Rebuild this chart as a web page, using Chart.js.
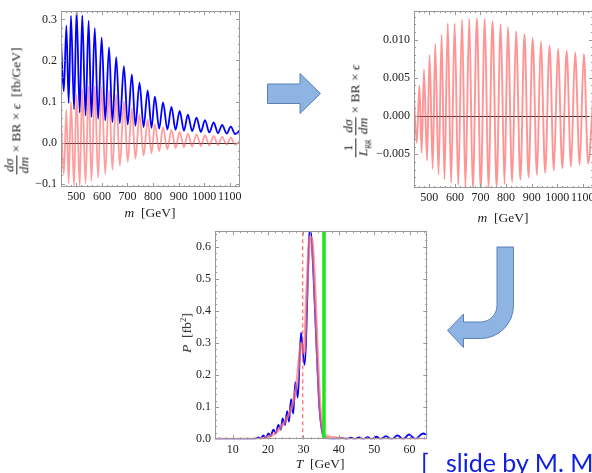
<!DOCTYPE html>
<html>
<head>
<meta charset="utf-8">
<script src="https://cdn.jsdelivr.net/npm/chart.js@4.4.1/dist/chart.umd.min.js"></script>
<style>
  body { margin: 0; width: 592px; height: 473px; overflow: hidden; position: relative; background: #fff; }
  .box { position: absolute; }
  .lab { position: absolute; font-family: 'Liberation Serif', serif; font-size: 13.5px; color: #222; white-space: nowrap; transform: translate(-50%, -50%); }
  .rot { transform: translate(-50%, -50%) rotate(-90deg); }
  .frac { display: inline-block; vertical-align: middle; text-align: center; line-height: 1.05; }
  .frac > span { display: block; padding: 0 1px; }
  .frac > span:first-child { border-bottom: 1px solid #222; }
  sub { font-size: 9px; vertical-align: -2px; line-height: 0; }
  sup { font-size: 9px; vertical-align: 5px; line-height: 0; }
  .credit { position: absolute; top: 450px; font-family: Lato, 'Noto Sans', sans-serif; font-size: 25px; line-height: 25px; color: #1020e0; white-space: nowrap; }
</style>
</head>
<body>
<div class="box" style="left:0;top:0"><canvas id="c1" width="250" height="210"></canvas></div>
<div class="box" style="left:340px;top:0"><canvas id="c2" width="263" height="211"></canvas></div>
<div class="box" style="left:180px;top:220px"><canvas id="c3" width="257" height="243"></canvas></div>

<div class="lab rot" style="left:17px;top:111px"><span class="frac"><span><i>dσ</i></span><span><i>dm</i></span></span> × BR × <i>ϵ</i>&nbsp; [fb/GeV]</div>
<div class="lab" style="left:150px;top:213px"><i>m</i>&nbsp; [GeV]</div>
<div class="lab rot" style="left:356px;top:111px"><span class="frac"><span>1</span><span><i>L</i><sub>gg</sub></span></span> <span class="frac"><span><i>dσ</i></span><span><i>dm</i></span></span> × BR × <i>ϵ</i></div>
<div class="lab" style="left:503px;top:218px"><i>m</i>&nbsp; [GeV]</div>
<div class="lab rot" style="left:187px;top:333px"><i>P</i>&nbsp; [fb<sup>2</sup>]</div>
<div class="lab" style="left:320px;top:464px"><i>T</i>&nbsp; [GeV]</div>

<svg class="box" style="left:0;top:0" width="592" height="473">
  <polygon points="267.5,84 300,84 300,73.5 320.5,93.5 300,113.5 300,103.5 267.5,103.5" fill="#8eb4e3" stroke="#5b80b8" stroke-width="1"/>
  <path d="M497,247 L513.5,247 L513.5,305.5 A33,33 0 0 1 480.5,338.5 L463.5,338.5 L463.5,347.5 L447.5,330.5 L463.5,314 L463.5,322 L480.5,322 A16.5,16.5 0 0 0 497,305.5 Z" fill="#8eb4e3" stroke="#5b80b8" stroke-width="1"/>
</svg>
<div class="credit" style="left:421px">[</div>
<div class="credit" style="left:446px">slide by M. M</div>

<script>
const mPts = [440, 451, 461, 470, 479, 491, 501, 513, 523, 536, 548, 559, 572, 585, 599, 613, 628, 641, 656, 670, 686, 701, 717, 731, 747, 763, 779, 794, 807, 824, 839, 856, 872, 888, 904, 921, 936, 953, 970, 987, 1003, 1020, 1037, 1054, 1070, 1088, 1104, 1121, 1140];
const sigBlue = [0.245, 0.125, 0.285, 0.097, 0.309, 0.081, 0.322, 0.073, 0.31, 0.066, 0.297, 0.062, 0.279, 0.058, 0.256, 0.054, 0.232, 0.05, 0.208, 0.047, 0.186, 0.044, 0.166, 0.041, 0.146, 0.038, 0.127, 0.036, 0.112, 0.034, 0.098, 0.032, 0.087, 0.031, 0.077, 0.029, 0.068, 0.028, 0.061, 0.026, 0.055, 0.025, 0.049, 0.023, 0.043, 0.022, 0.039, 0.021, 0.03];
const sigRed = [0.054, -0.077, 0.08, -0.099, 0.099, -0.104, 0.117, -0.105, 0.13, -0.1, 0.137, -0.093, 0.138, -0.085, 0.136, -0.076, 0.128, -0.066, 0.117, -0.056, 0.1, -0.047, 0.084, -0.039, 0.069, -0.032, 0.056, -0.026, 0.045, -0.021, 0.037, -0.016, 0.031, -0.013, 0.026, -0.011, 0.022, -0.009, 0.02, -0.008, 0.018, -0.007, 0.016, -0.006, 0.014, -0.005, 0.012, -0.005, 0.004];
const sigNorm = [0.0022, -0.0035, 0.004, -0.0048, 0.0061, -0.0058, 0.008, -0.0069, 0.0094, -0.0076, 0.0106, -0.0083, 0.0121, -0.0087, 0.0121, -0.009, 0.0126, -0.0093, 0.0127, -0.0096, 0.0128, -0.0096, 0.0127, -0.0095, 0.0124, -0.0092, 0.012, -0.0089, 0.0116, -0.0086, 0.0111, -0.0083, 0.0107, -0.008, 0.0102, -0.0077, 0.0097, -0.0074, 0.0092, -0.0071, 0.0088, -0.0068, 0.0085, -0.0066, 0.0083, -0.0064, 0.0081, -0.0062, 0.002];

const mTicks = [500, 600, 700, 800, 900, 1000, 1100];
const y1Ticks = [-0.1, 0, 0.1, 0.2, 0.3];
const y1Labels = ['−0.1', '0.0', '0.1', '0.2', '0.3'];
const y2Ticks = [-0.005, 0, 0.005, 0.01];
const y2Labels = ['−0.005', '0.000', '0.005', '0.010'];

const tBlue = [5, 14.4, 16.6, 17.3, 17.9, 18.7, 19.3, 20.1, 20.7, 21.5, 22.2, 22.9, 23.6, 24.1, 24.8, 25.4, 25.9, 26.5, 27.1, 27.7, 28.4, 29.3, 30.3, 31.9, 32.8, 33.7, 34.5, 35.2, 35.8, 37, 38.5, 40.9, 42.1, 43.4, 44.5, 45.7, 46.9, 48.1, 49.3, 50.6, 51.9, 53.3, 54.9, 56.6, 58.2, 59.8, 61.6, 63.8, 65];
const pBlue = [0, 0, 0.002, 0.006, 0.002, 0.012, 0.004, 0.018, 0.01, 0.03, 0.018, 0.045, 0.03, 0.065, 0.045, 0.088, 0.055, 0.125, 0.08, 0.178, 0.13, 0.332, 0.232, 0.665, 0.52, 0.285, 0.1, 0.028, 0.008, 0.002, 0.001, 0.004, 0, 0.005, 0, 0.006, 0, 0.007, 0, 0.008, 0, 0.01, 0, 0.012, 0, 0.015, 0.001, 0.018, 0.014];
const tRed = [5, 14, 17, 18.7, 21.5, 23.4, 25.3, 26.7, 28.1, 28.8, 29.4, 30.2, 30.9, 31.9, 32.6, 33.3, 33.9, 34.7, 35.6, 37, 39.4, 42.2, 44, 65];
const pRed = [0, 0, 0.001, 0.003, 0.015, 0.035, 0.065, 0.1, 0.17, 0.25, 0.3, 0.27, 0.45, 0.63, 0.6, 0.45, 0.28, 0.1, 0.02, 0.008, 0.004, 0.001, 0, 0];
const tDashed = 29.8;
const tGreen = 35.8;
const tTicks = [10, 20, 30, 40, 50, 60];
const pTicks = [0, 0.1, 0.2, 0.3, 0.4, 0.5, 0.6];
const pLabels = ['0.0', '0.1', '0.2', '0.3', '0.4', '0.5', '0.6'];

Chart.defaults.font.family = "'Liberation Serif', serif";
Chart.defaults.font.size = 12;
Chart.defaults.color = '#222';

const steps = (a, b, d) => {
    const out = [];
    for (let v = a; v <= b + 1e-9; v += d) out.push(+v.toFixed(6));
    return out;
};
const pts = (xs, ys) => xs.map((x, i) => ({ x: x, y: ys[i] }));

const frame = {
    id: 'frame',
    beforeDatasetsDraw(chart, args, o) {
        if (!o.zero) return;
        const { ctx, chartArea: a, scales: { y } } = chart;
        const py = Math.round(y.getPixelForValue(0)) + 0.5;
        ctx.save();
        ctx.strokeStyle = 'rgba(0,0,0,0.8)';
        ctx.lineWidth = 1;
        ctx.beginPath();
        ctx.moveTo(a.left, py);
        ctx.lineTo(a.right, py);
        ctx.stroke();
        ctx.restore();
    },
    afterDatasetsDraw(chart, args, o) {
        const { ctx, chartArea: a, scales: { x, y } } = chart;
        ctx.save();
        ctx.strokeStyle = '#999';
        ctx.lineWidth = 1;
        ctx.strokeRect(Math.round(a.left) + 0.5, Math.round(a.top) + 0.5, Math.round(a.right - a.left) - 1, Math.round(a.bottom - a.top) - 1);
        ctx.beginPath();
        const xt = (vals, len) => vals.forEach(v => {
            const px = Math.round(x.getPixelForValue(v)) + 0.5;
            if (px <= a.left + 1 || px >= a.right - 1) return;
            ctx.moveTo(px, a.bottom); ctx.lineTo(px, a.bottom - len);
            ctx.moveTo(px, a.top); ctx.lineTo(px, a.top + len);
        });
        const yt = (vals, len) => vals.forEach(v => {
            const py = Math.round(y.getPixelForValue(v)) + 0.5;
            if (py <= a.top + 1 || py >= a.bottom - 1) return;
            ctx.moveTo(a.left, py); ctx.lineTo(a.left + len, py);
            ctx.moveTo(a.right, py); ctx.lineTo(a.right - len, py);
        });
        xt(o.xMajor, 4); xt(o.xMinor, 2);
        yt(o.yMajor, 4); yt(o.yMinor, 2);
        ctx.stroke();
        ctx.restore();
    }
};

const axes = (xr, yr, xTicks, xLabels, yTicks, yLabels, yWidth, xHeight) => ({
    x: {
        type: 'linear', min: xr[0], max: xr[1],
        grid: { display: false, drawTicks: false }, border: { display: false },
        afterBuildTicks: s => { s.ticks = xTicks.map(v => ({ value: v })); },
        afterFit: s => { s.height = xHeight; },
        ticks: { autoSkip: false, maxRotation: 0, padding: 3, callback: (v, i) => xLabels[i] }
    },
    y: {
        type: 'linear', min: yr[0], max: yr[1],
        grid: { display: false, drawTicks: false }, border: { display: false },
        afterBuildTicks: s => { s.ticks = yTicks.map(v => ({ value: v })); },
        afterFit: s => { s.width = yWidth; },
        ticks: { autoSkip: false, padding: 4, callback: (v, i) => yLabels[i] }
    }
});

const base = (padding, scales, frameOpts) => ({
    responsive: false,
    animation: false,
    devicePixelRatio: 1,
    layout: { padding: padding },
    scales: scales,
    plugins: { legend: { display: false }, tooltip: { enabled: false }, frame: frameOpts },
    elements: { point: { radius: 0 } }
});

const lineSet = (data, color, width) => ({
    data: data, borderColor: color, borderWidth: width, fill: false,
    cubicInterpolationMode: 'monotone', pointRadius: 0
});

new Chart(document.getElementById('c1'), {
    type: 'line',
    data: { datasets: [
        lineSet(pts(mPts, sigBlue), '#0000ff', 1.8),
        lineSet(pts(mPts, sigRed), 'rgba(255,90,90,0.6)', 1.8)
    ] },
    options: base({ left: 0, top: 7, right: 10, bottom: 0 },
        axes([440, 1140], [-0.108, 0.32], mTicks, mTicks.map(String), y1Ticks, y1Labels, 61, 23),
        { zero: true, xMajor: mTicks, xMinor: steps(440, 1140, 20), yMajor: y1Ticks, yMinor: steps(-0.1, 0.32, 0.02) }),
    plugins: [frame]
});

new Chart(document.getElementById('c2'), {
    type: 'line',
    data: { datasets: [
        lineSet(pts(mPts, sigNorm), 'rgba(255,90,90,0.65)', 1.9)
    ] },
    options: base({ left: 0, top: 7, right: 10, bottom: 0 },
        axes([440, 1140], [-0.0094, 0.0137], mTicks, mTicks.map(String), y2Ticks, y2Labels, 74, 23),
        { zero: true, xMajor: mTicks, xMinor: steps(440, 1140, 20), yMajor: y2Ticks, yMinor: steps(-0.009, 0.013, 0.001) }),
    plugins: [frame]
});

new Chart(document.getElementById('c3'), {
    type: 'line',
    data: { datasets: [
        { ...lineSet([{ x: tGreen, y: 0 }, { x: tGreen, y: 0.7 }], '#1ee61e', 3.5), cubicInterpolationMode: 'default' },
        { ...lineSet([{ x: tDashed, y: 0 }, { x: tDashed, y: 0.7 }], 'rgba(255,80,80,0.85)', 1.2), borderDash: [4, 3], cubicInterpolationMode: 'default' },
        lineSet(pts(tRed, pRed), 'rgba(255,120,120,0.7)', 3),
        lineSet(pts(tBlue, pBlue), '#0000ff', 1.8)
    ] },
    options: base({ left: 0, top: 6.7, right: 9.7, bottom: 0 },
        axes([5, 65], [0, 0.648], tTicks, tTicks.map(String), pTicks, pLabels, 35, 23.7),
        { zero: false, xMajor: tTicks, xMinor: steps(6, 64, 2), yMajor: pTicks, yMinor: steps(0, 0.64, 0.02) }),
    plugins: [frame]
});
</script>
</body>
</html>
